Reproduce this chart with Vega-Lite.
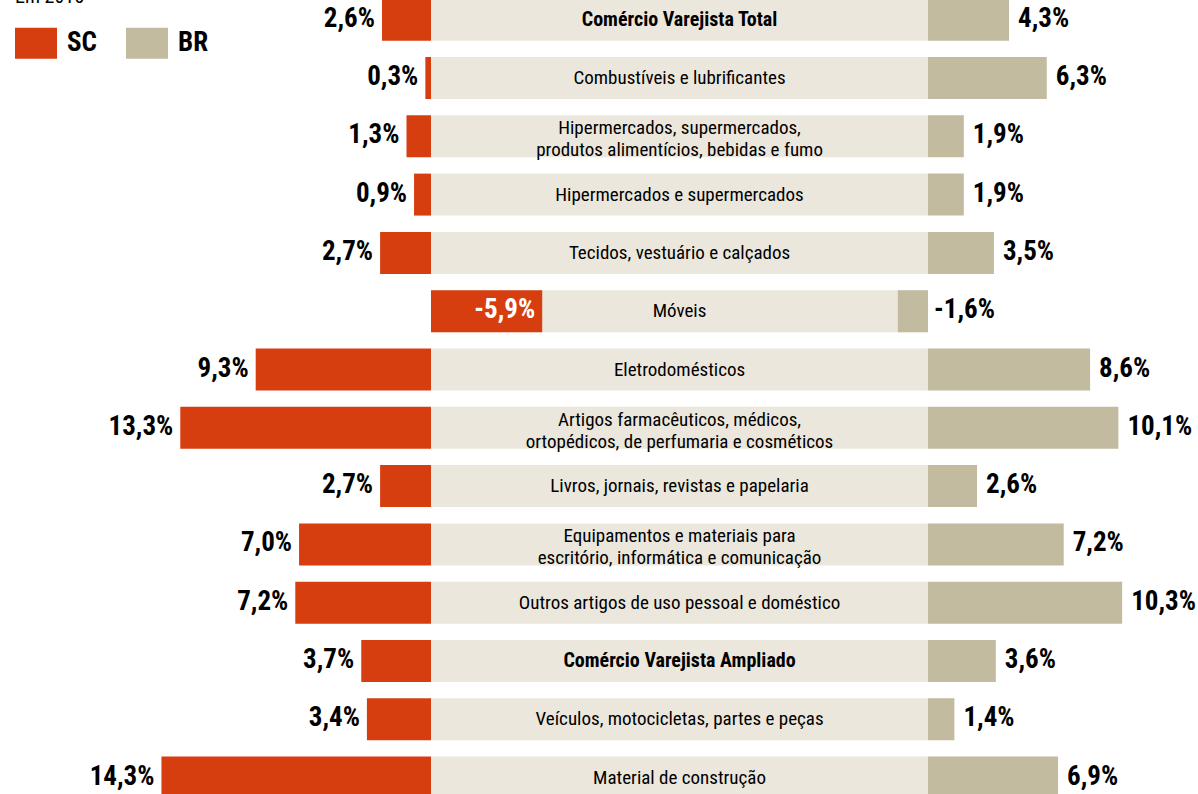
{
  "$schema": "https://vega.github.io/schema/vega-lite/v6.json",
  "width": 1198,
  "height": 794,
  "autosize": {"type": "none"},
  "padding": 0,
  "background": "white",
  "config": {"view": {"stroke": null}, "font": "Roboto Condensed, Open Sans Condensed, Arial Narrow, Liberation Sans Narrow, Lato, sans-serif"},
  "data": {
    "values": [
      {"cat": "Comércio Varejista Total", "sc": 2.6, "br": 4.3},
      {"cat": "Combustíveis e lubrificantes", "sc": 0.3, "br": 6.3},
      {"cat": "Hipermercados, supermercados,\nprodutos alimentícios, bebidas e fumo", "sc": 1.3, "br": 1.9},
      {"cat": "Hipermercados e supermercados", "sc": 0.9, "br": 1.9},
      {"cat": "Tecidos, vestuário e calçados", "sc": 2.7, "br": 3.5},
      {"cat": "Móveis", "sc": -5.9, "br": -1.6},
      {"cat": "Eletrodomésticos", "sc": 9.3, "br": 8.6},
      {"cat": "Artigos farmacêuticos, médicos,\nortopédicos, de perfumaria e cosméticos", "sc": 13.3, "br": 10.1},
      {"cat": "Livros, jornais, revistas e papelaria", "sc": 2.7, "br": 2.6},
      {"cat": "Equipamentos e materiais para\nescritório,  informática e comunicação", "sc": 7.0, "br": 7.2},
      {"cat": "Outros artigos de uso pessoal e doméstico", "sc": 7.2, "br": 10.3},
      {"cat": "Comércio Varejista Ampliado", "sc": 3.7, "br": 3.6},
      {"cat": "Veículos, motocicletas, partes e peças", "sc": 3.4, "br": 1.4},
      {"cat": "Material de construção", "sc": 14.3, "br": 6.9}
    ]
  },
  "transform": [
    {"calculate": "replace(replace(format(datum.sc, '.1f'), '.', ','), '\u2212', '-') + '%'", "as": "scLabel"},
    {"calculate": "replace(replace(format(datum.br, '.1f'), '.', ','), '\u2212', '-') + '%'", "as": "brLabel"},
    {"calculate": "indexof(datum.cat, 'Comércio Varejista') == 0", "as": "isTotal"},
    {"calculate": "indexof(datum.cat, '\\n') >= 0", "as": "isMulti"}
  ],
  "encoding": {
    "y": {
      "field": "cat",
      "type": "nominal",
      "sort": null,
      "axis": null,
      "scale": {"range": [-9.45, 806.75], "paddingInner": 0.28, "paddingOuter": 0.14}
    }
  },
  "layer": [
    {
      "layer": [
        {
          "mark": {"type": "bar", "color": "#EBE7DC"},
          "encoding": {
            "x": {"datum": 0, "type": "quantitative", "axis": null, "scale": {"domain": [-40.69, 22.865], "reverse": true, "nice": false, "zero": false}},
            "x2": {"datum": -26.37}
          }
        },
        {
          "mark": {"type": "bar"},
          "encoding": {
            "x": {"field": "sc", "type": "quantitative", "axis": null, "scale": {"domain": [-40.69, 22.865], "reverse": true, "nice": false, "zero": false}},
            "x2": {"datum": 0},
            "color": {
              "datum": "SC",
              "type": "nominal",
              "scale": {"domain": ["SC", "BR"], "range": ["#D63E10", "#C2BB9F"]},
              "legend": {
                "orient": "none",
                "legendX": 15,
                "legendY": -13,
                "direction": "horizontal",
                "title": "Em 2015",
                "titleFontSize": 20,
                "titleFontWeight": "normal",
                "titleColor": "#000000",
                "titlePadding": 15,
                "titleAnchor": "start",
                "symbolType": "M-1,-0.738H1V0.738H-1Z",
                "symbolSize": 1764,
                "symbolStrokeWidth": 0,
                "symbolOpacity": 1,
                "labelFontSize": 27,
                "labelFontWeight": "bold",
                "labelColor": "#000000",
                "labelOffset": 10,
                "columnPadding": 29,
                "padding": 0
              }
            }
          }
        },
        {
          "transform": [{"filter": "datum.sc >= 0"}],
          "mark": {"type": "text", "align": "right", "baseline": "middle", "dx": -7, "dy": -1, "fontSize": 27, "fontWeight": "bold", "color": "#000000"},
          "encoding": {
            "x": {"field": "sc", "type": "quantitative", "axis": null, "scale": {"domain": [-40.69, 22.865], "reverse": true, "nice": false, "zero": false}},
            "text": {"field": "scLabel"}
          }
        },
        {
          "transform": [{"filter": "datum.sc < 0"}],
          "mark": {"type": "text", "align": "right", "baseline": "middle", "dx": -7, "dy": -1, "fontSize": 27, "fontWeight": "bold", "color": "#FFFFFF"},
          "encoding": {
            "x": {"field": "sc", "type": "quantitative", "axis": null, "scale": {"domain": [-40.69, 22.865], "reverse": true, "nice": false, "zero": false}},
            "text": {"field": "scLabel"}
          }
        },
        {
          "transform": [{"filter": "!datum.isTotal && !datum.isMulti"}],
          "mark": {"type": "text", "align": "center", "baseline": "middle", "fontSize": 19, "color": "#000000"},
          "encoding": {
            "x": {"datum": -13.185, "type": "quantitative", "axis": null, "scale": {"domain": [-40.69, 22.865], "reverse": true, "nice": false, "zero": false}},
            "text": {"field": "cat"}
          }
        },
        {
          "transform": [{"filter": "datum.isMulti"}],
          "mark": {"type": "text", "align": "center", "baseline": "middle", "dy": -8, "fontSize": 19, "lineBreak": "\n", "lineHeight": 22, "color": "#000000"},
          "encoding": {
            "x": {"datum": -13.185, "type": "quantitative", "axis": null, "scale": {"domain": [-40.69, 22.865], "reverse": true, "nice": false, "zero": false}},
            "text": {"field": "cat"}
          }
        },
        {
          "transform": [{"filter": "datum.isTotal"}],
          "mark": {"type": "text", "align": "center", "baseline": "middle", "fontSize": 20, "fontWeight": "bold", "color": "#000000"},
          "encoding": {
            "x": {"datum": -13.185, "type": "quantitative", "axis": null, "scale": {"domain": [-40.69, 22.865], "reverse": true, "nice": false, "zero": false}},
            "text": {"field": "cat"}
          }
        }
      ]
    },
    {
      "layer": [
        {
          "mark": {"type": "bar"},
          "encoding": {
            "x": {"field": "br", "type": "quantitative", "axis": null, "scale": {"domain": [-49.23, 14.324], "nice": false, "zero": false}},
            "x2": {"datum": 0},
            "color": {"datum": "BR", "type": "nominal"}
          }
        },
        {
          "transform": [{"filter": "datum.br >= 0"}],
          "mark": {"type": "text", "align": "left", "baseline": "middle", "dx": 9, "dy": -1, "fontSize": 27, "fontWeight": "bold", "color": "#000000"},
          "encoding": {
            "x": {"field": "br", "type": "quantitative", "axis": null, "scale": {"domain": [-49.23, 14.324], "nice": false, "zero": false}},
            "text": {"field": "brLabel"}
          }
        },
        {
          "transform": [{"filter": "datum.br < 0"}],
          "mark": {"type": "text", "align": "left", "baseline": "middle", "dx": 6, "dy": -1, "fontSize": 27, "fontWeight": "bold", "color": "#000000"},
          "encoding": {
            "x": {"datum": 0, "type": "quantitative", "axis": null, "scale": {"domain": [-49.23, 14.324], "nice": false, "zero": false}},
            "text": {"field": "brLabel"}
          }
        }
      ]
    }
  ],
  "resolve": {"scale": {"x": "independent"}}
}
